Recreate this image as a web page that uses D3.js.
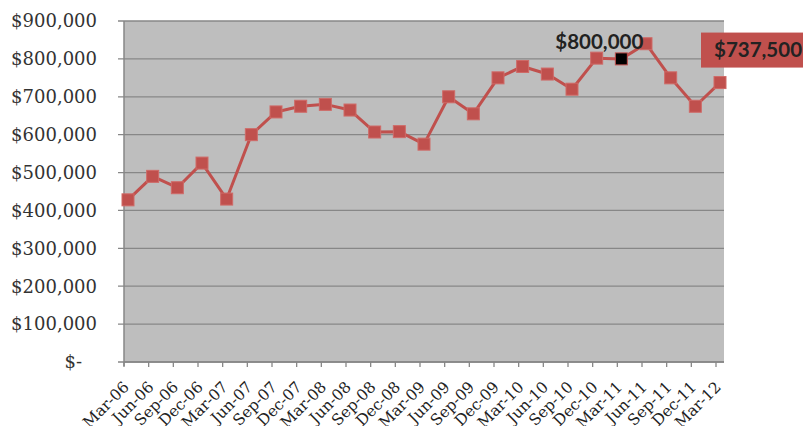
<!DOCTYPE html>
<html><head><meta charset="utf-8">
<script src="https://cdn.jsdelivr.net/npm/d3@7"></script>
<style>body{margin:0;background:#fff}svg{display:block}</style>
</head><body>
<svg id="c" width="803" height="426"></svg>
<script>
const categories = ["Mar-06","Jun-06","Sep-06","Dec-06","Mar-07","Jun-07","Sep-07","Dec-07","Mar-08","Jun-08","Sep-08","Dec-08","Mar-09","Jun-09","Sep-09","Dec-09","Mar-10","Jun-10","Sep-10","Dec-10","Mar-11","Jun-11","Sep-11","Dec-11","Mar-12"];
const values = [428000,490000,460000,525000,430000,600000,660000,675000,680000,665000,607000,608000,575000,700000,655000,750000,780000,760000,720000,802000,800000,840000,750000,675000,737500];
const yTicks = [0,100000,200000,300000,400000,500000,600000,700000,800000,900000];
const highlightCat = "Mar-11";
const highlightLabel = "$800,000";
const lastCat = "Mar-12";
const lastLabel = "$737,500";

const svg = d3.select("#c");
const L = 124, R = 724, T = 21, B = 362;
const y = d3.scaleLinear().domain([0, 900000]).range([B, T]);
const x = d3.scalePoint().domain(categories).range([128, 720]);
const tickX = d3.scalePoint().domain(categories).range([124, 716]);
const red = "#c0504d";

svg.append("rect").attr("x", L).attr("y", T).attr("width", R - L).attr("height", B - T).attr("fill", "#bebebe");

svg.append("g").selectAll("line").data(yTicks).join("line")
  .attr("x1", 118).attr("x2", R).attr("y1", d => y(d)).attr("y2", d => y(d))
  .attr("stroke", "#878787").attr("stroke-width", 1.3);

const fmt = d => d === 0 ? "$-" : "$" + d3.format(",")(d);
svg.append("g").selectAll("text").data(yTicks).join("text")
  .attr("x", d => d === 0 ? 82 : 97).attr("y", d => y(d)).attr("dy", "0.35em")
  .attr("text-anchor", "end").attr("font-family", "DejaVu Serif").attr("font-size", 18)
  .attr("fill", "#333").text(fmt);

svg.append("line").attr("x1", L).attr("x2", L).attr("y1", T).attr("y2", B + 4).attr("stroke", "#878787").attr("stroke-width", 1.5);
svg.append("line").attr("x1", L).attr("x2", R).attr("y1", B).attr("y2", B).attr("stroke", "#878787").attr("stroke-width", 1.5);
svg.append("g").selectAll("line").data(categories).join("line")
  .attr("x1", d => tickX(d)).attr("x2", d => tickX(d)).attr("y1", B).attr("y2", B + 5)
  .attr("stroke", "#878787").attr("stroke-width", 1.3);

svg.append("g").selectAll("text").data(categories).join("text")
  .attr("transform", d => `translate(${tickX(d) + 6},${B + 26}) rotate(-45)`)
  .attr("text-anchor", "end").attr("font-family", "DejaVu Serif").attr("font-size", 15.5)
  .attr("fill", "#222").text(d => d);

const line = d3.line().x((d, i) => x(categories[i])).y(d => y(d));
svg.append("path").datum(values).attr("d", line).attr("fill", "none")
  .attr("stroke", red).attr("stroke-width", 3).attr("stroke-linejoin", "round");

svg.append("g").selectAll("rect").data(values).join("rect")
  .attr("x", (d, i) => x(categories[i]) - 6).attr("y", d => y(d) - 6)
  .attr("width", 12).attr("height", 12)
  .attr("fill", (d, i) => categories[i] === highlightCat ? "#000" : red)
  .attr("stroke", (d, i) => categories[i] === highlightCat ? red : "#cf6a67").attr("stroke-width", 1);

const hi = categories.indexOf(highlightCat);
svg.append("text").attr("x", x(highlightCat) + 22).attr("y", y(values[hi]) - 10)
  .attr("text-anchor", "end").attr("font-family", "Lato").attr("font-weight", "bold")
  .attr("font-size", 20.5).attr("fill", "#222").text(highlightLabel);

const li = categories.indexOf(lastCat);
svg.append("rect").attr("x", 701).attr("y", y(values[li]) - 50).attr("width", 110).attr("height", 35).attr("fill", red);
svg.append("text").attr("x", 714).attr("y", y(values[li]) - 26)
  .attr("font-family", "Lato").attr("font-weight", "bold")
  .attr("font-size", 20.5).attr("fill", "#222").text(lastLabel);
</script>
</body></html>
